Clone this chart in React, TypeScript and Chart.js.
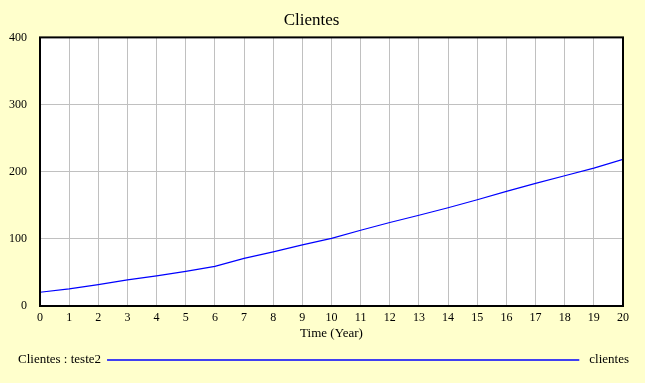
import React, { useEffect, useRef } from "react";
import { Chart, registerables } from "chart.js";

Chart.register(...registerables);

const years = [0, 1, 2, 3, 4, 5, 6, 7, 8, 9, 10, 11, 12, 13, 14, 15, 16, 17, 18, 19, 20];
const clientes = [20.5, 25.5, 31.8, 38.8, 44.8, 51.6, 59.1, 71, 80.6, 91, 100.8, 112.8, 124.3, 135.2, 146.3, 158.2, 170.6, 182.5, 194, 205.4, 218.4];
const titleText = "Clientes";
const xTitle = "Time (Year)";
const legendLeft = "Clientes : teste2";
const legendRight = "clientes";

const FONT = "'Liberation Serif', 'Times New Roman', serif";

const framePlugin = {
  id: "frameLegend",
  beforeDraw(chart: any) {
    const { ctx, chartArea: a } = chart;
    ctx.save();
    ctx.fillStyle = "#FFFFFF";
    ctx.fillRect(a.left, a.top, a.right - a.left, a.bottom - a.top);
    ctx.restore();
  },
  afterDraw(chart: any) {
    const { ctx, chartArea: a, width } = chart;
    ctx.save();
    ctx.strokeStyle = "#000000";
    ctx.lineWidth = 2;
    ctx.strokeRect(a.left, a.top, a.right - a.left, a.bottom - a.top);
    // legend
    const ly = 360;
    ctx.font = `13px ${FONT}`;
    ctx.fillStyle = "#000000";
    ctx.textBaseline = "middle";
    ctx.textAlign = "left";
    ctx.fillText(legendLeft, 18, ly);
    const lw = ctx.measureText(legendLeft).width;
    ctx.textAlign = "right";
    ctx.fillText(legendRight, width - 16, ly);
    const rw = ctx.measureText(legendRight).width;
    ctx.strokeStyle = chart.data.datasets[0].borderColor;
    ctx.lineWidth = 1.5;
    ctx.beginPath();
    ctx.moveTo(18 + lw + 6, ly);
    ctx.lineTo(width - 16 - rw - 10, ly);
    ctx.stroke();
    ctx.restore();
  },
};

export default function App() {
  const ref = useRef<HTMLCanvasElement | null>(null);
  useEffect(() => {
    if (!ref.current) return;
    const chart = new Chart(ref.current, {
      type: "line",
      data: {
        labels: years,
        datasets: [
          {
            label: legendRight,
            data: years.map((x, i) => ({ x, y: clientes[i] })),
            borderColor: "#0000FF",
            borderWidth: 1.2,
            pointRadius: 0,
            tension: 0,
            fill: false,
          },
        ],
      },
      options: {
        animation: false,
        responsive: false,
        layout: { padding: { left: 0, right: 22, top: 0, bottom: 41 } },
        plugins: {
          legend: { display: false },
          tooltip: { enabled: false },
          title: {
            display: true,
            text: titleText,
            color: "#000000",
            font: { family: FONT, size: 17, weight: "normal" },
            padding: { top: 10, bottom: 7 },
          },
        },
        scales: {
          x: {
            type: "linear",
            min: 0,
            max: 20,
            afterFit: (s: any) => {
              s.height = 36;
            },
            ticks: {
              stepSize: 1,
              autoSkip: false,
              maxRotation: 0,
              color: "#000000",
              padding: 5,
              font: { family: FONT, size: 12 },
            },
            grid: { color: "#C0C0C0", lineWidth: 1, drawTicks: false },
            border: { display: false },
            title: {
              display: true,
              text: xTitle,
              color: "#000000",
              font: { family: FONT, size: 13 },
              padding: { top: 0, bottom: 1 },
            },
          },
          y: {
            type: "linear",
            min: 0,
            max: 400,
            afterFit: (s: any) => {
              s.width = 40;
            },
            ticks: {
              stepSize: 100,
              color: "#000000",
              padding: 13,
              font: { family: FONT, size: 12 },
            },
            grid: { color: "#C0C0C0", lineWidth: 1, drawTicks: false },
            border: { display: false },
          },
        },
      },
      plugins: [framePlugin],
    } as any);
    return () => chart.destroy();
  }, []);
  return (
    <div
      style={{
        position: "absolute",
        left: 0,
        top: 0,
        width: 645,
        height: 383,
        background: "#FFFFCC",
      }}
    >
      <canvas ref={ref} width={645} height={383} style={{ display: "block" }} />
    </div>
  );
}
